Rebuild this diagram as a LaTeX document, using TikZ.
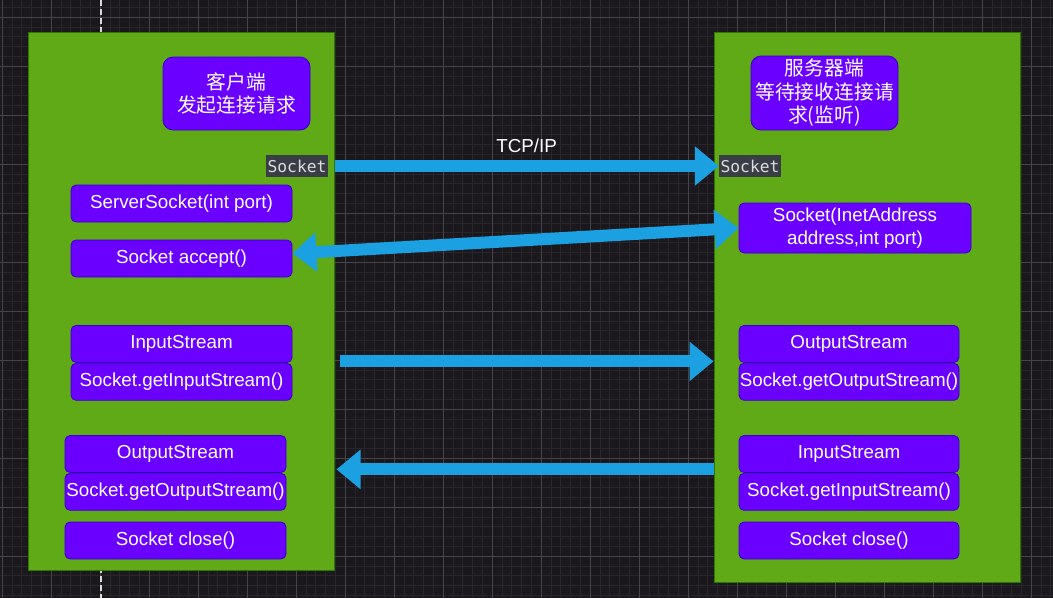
\documentclass[tikz,border=0pt]{standalone}
\usepackage{fontspec}
\setmainfont{Liberation Sans}
\newfontfamily\cjk{Noto Sans CJK SC}
\newfontfamily\codefont{DejaVu Sans Mono}
\usetikzlibrary{positioning,arrows.meta,calc}
\definecolor{bgdark}{HTML}{1B181D}
\definecolor{gridminor}{HTML}{28252B}
\definecolor{gridmajor}{HTML}{46434A}
\definecolor{groupgreen}{HTML}{60A917}
\definecolor{groupline}{HTML}{2D7600}
\definecolor{methodpurple}{HTML}{6A00FF}
\definecolor{methodline}{HTML}{3700CC}
\definecolor{flowblue}{HTML}{1BA1E2}
\definecolor{codebg}{HTML}{393E46}
\definecolor{codetext}{HTML}{DCDCDC}
\tikzset{
  group/.style={draw=groupline, fill=groupgreen, line width=1pt, inner sep=0pt},
  method/.style={draw=methodline, fill=methodpurple, line width=0.8pt, rounded corners=5pt,
    text=white, font=\fontsize{18.8}{23}\selectfont, minimum width=221pt, minimum height=37pt,
    inner sep=0pt, align=center},
  headbox/.style={method, rounded corners=10pt, font=\cjk\fontsize{19.8}{23.5}\selectfont},
  codelabel/.style={fill=codebg, text=codetext, font=\codefont\fontsize{16.3}{18}\selectfont,
    minimum width=62pt, minimum height=22pt, inner sep=0pt},
  flow/.style={draw=flowblue, line width=12pt, -{Triangle[length=24pt,width=38pt]}},
}
\begin{document}
\begin{tikzpicture}[x=1pt,y=-1pt]
% background and grid
\fill[bgdark] (0,0) rectangle (1053,598);
\useasboundingbox (0,0) rectangle (1053,598);
\foreach \i in {0,...,107} \draw[gridminor,line width=0.6pt] ({2+9.8*\i},0) -- ({2+9.8*\i},598);
\foreach \j in {-1,...,59} \draw[gridminor,line width=0.6pt] (0,{17+9.8*\j}) -- (1053,{17+9.8*\j});
\foreach \i in {0,...,21} \draw[gridmajor,line width=0.8pt] ({2+49*\i},0) -- ({2+49*\i},598);
\foreach \j in {0,...,11} \draw[gridmajor,line width=0.8pt] (0,{17+49*\j}) -- (1053,{17+49*\j});
\draw[white!85!black,line width=1.5pt,dash pattern=on 6pt off 3pt] (101,0) -- (101,598);

% client side
\node[group, minimum width=306pt, minimum height=538pt] (client) at (181,301) {};
\node[headbox, minimum width=147pt, minimum height=73pt] (clienthead) at (236.5,93.5) {客户端\\发起连接请求};
\node[codelabel] (sockL) at (297,166) {Socket};
\node[method] (ssock) at (181.5,203.5) {ServerSocket(int port)};
\node[method] (accept) at (181.5,258.5) {Socket accept()};
\node[method] (inL) at (181.5,344) {InputStream};
\node[method, below=0pt of inL] (getinL) {Socket.getInputStream()};
\node[method] (outL) at (175.5,454) {OutputStream};
\node[method, below=0pt of outL] (getoutL) {Socket.getOutputStream()};
\node[method] (closeL) at (175.5,540.5) {Socket close()};

% server side
\node[group, minimum width=306pt, minimum height=550pt] (server) at (867,307) {};
\node[headbox, minimum width=147pt, minimum height=74pt] (serverhead) at (824.5,93) {服务器端\\等待接收连接请\\求(监听)};
\node[codelabel] (sockR) at (750,166) {Socket};
\node[method, minimum width=232pt, minimum height=50pt] (addr) at (855,228) {Socket(InetAddress\\address,int port)};
\node[method, minimum width=220pt] (outR) at (849,344) {OutputStream};
\node[method, minimum width=220pt, below=0pt of outR] (getoutR) {Socket.getOutputStream()};
\node[method, minimum width=220pt] (inR) at (849,454) {InputStream};
\node[method, minimum width=220pt, below=0pt of inR] (getinR) {Socket.getInputStream()};
\node[method, minimum width=220pt] (closeR) at (849,540.5) {Socket close()};

% connections
\draw[flow] (sockL -| client.east) -- (sockR.west)
  node[midway, above=4pt, text=white, font=\fontsize{18.8}{22}\selectfont] (tcp) {TCP/IP};
\draw[flow, {Triangle[length=24pt,width=38pt]}-{Triangle[length=24pt,width=38pt]}]
  ([yshift=5pt]accept.east) -- (addr.west);
\draw[flow] ([xshift=5pt,yshift=1.5pt]inL.south east -| client.east) -- ([yshift=1.5pt]outR.south west -| server.west);
\draw[flow] ([yshift=3.5pt]inR.south west -| server.west) -- ([xshift=2pt,yshift=3.5pt]outL.south east -| client.east);
\end{tikzpicture}
\end{document}
